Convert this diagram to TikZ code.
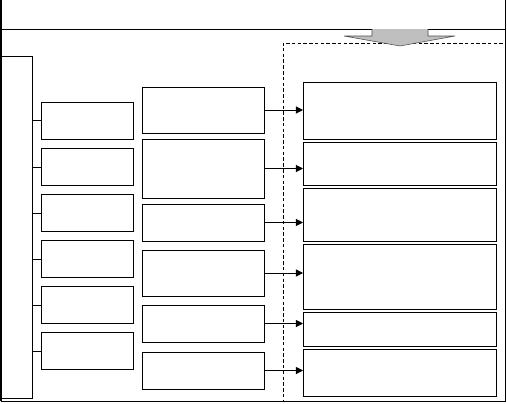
\documentclass[tikz,border=0pt]{standalone}
\usepackage{tikz}
\usetikzlibrary{positioning, calc, arrows.meta}

\begin{document}
\begin{tikzpicture}[
    box/.style={rectangle, draw=black, line width=0.7pt, inner sep=0pt, outer sep=0pt},
    lvl/.style={box, minimum width=2.3cm, minimum height=0.925cm},
    sub/.style={box, minimum width=3.05cm},
    res/.style={box, minimum width=4.825cm},
    link/.style={line width=0.7pt},
    feed/.style={line width=0.7pt, -{Triangle[length=5pt, width=5pt]}}
]
\useasboundingbox (0,0) rectangle (12.675,-10.075);

% frame with header row
\draw[line width=0.7pt] (0.025,0) -- (0.025,-10.025) -- (12.625,-10.025) -- (12.625,0);
\draw[line width=1.6pt] (0.025,0) -- (0.025,-10.025);
\draw[line width=0.7pt] (0.025,-0.725) -- (12.625,-0.725);

\node[box, anchor=north west, minimum width=0.775cm, minimum height=8.55cm] (tall) at (0.025,-1.4) {};

% first column
\node[lvl, anchor=north west] (a1) at (1.025,-2.55) {};
\node[lvl, below=0.24cm of a1] (a2) {};
\node[lvl, below=0.225cm of a2] (a3) {};
\node[lvl, below=0.225cm of a3] (a4) {};
\node[lvl, below=0.225cm of a4] (a5) {};
\node[lvl, below=0.225cm of a5] (a6) {};

% second column
\node[sub, anchor=north west, minimum height=1.15cm] (b1) at (3.55,-2.175) {};
\node[sub, below=0.15cm of b1, minimum height=1.475cm] (b2) {};
\node[sub, below=0.15cm of b2, minimum height=0.925cm] (b3) {};
\node[sub, below=0.225cm of b3, minimum height=1.15cm] (b4) {};
\node[sub, below=0.225cm of b4, minimum height=0.925cm] (b5) {};
\node[sub, below=0.25cm of b5, minimum height=0.925cm] (b6) {};

% dashed result zone
\node[box, dashed, dash pattern=on 2.5pt off 1.6pt, anchor=north west, minimum width=5.55cm, minimum height=8.95cm] (zone) at (7.075,-1.075) {};

\node[res, anchor=north west, minimum height=1.425cm] (c1) at (7.575,-2.05) {};
\node[res, below=0.075cm of c1, minimum height=1.075cm] (c2) {};
\node[res, below=0.075cm of c2, minimum height=1.325cm] (c3) {};
\node[res, below=0.075cm of c3, minimum height=1.625cm] (c4) {};
\node[res, below=0.075cm of c4, minimum height=0.85cm] (c5) {};
\node[res, below=0.075cm of c5, minimum height=1.175cm] (c6) {};

% big arrow into the zone
\draw[fill=gray!50, draw=black!70, line width=0.4pt] (9.3,-0.725) -- (9.3,-0.9) -- (8.6,-0.9) -- (10.0,-1.15) -- (11.375,-0.9) -- (10.7,-0.9) -- (10.7,-0.725);

\draw[link] (a1.west -| tall.east) -- (a1.west);
\draw[link] (a2.west -| tall.east) -- (a2.west);
\draw[link] (a3.west -| tall.east) -- (a3.west);
\draw[link] (a4.west -| tall.east) -- (a4.west);
\draw[link] (a5.west -| tall.east) -- (a5.west);
\draw[link] (a6.west -| tall.east) -- (a6.west);

\draw[link] ($(a1.east)!0.5!(b1.west)$ -| a1.east) -- ($(a1.east)!0.5!(b1.west)$ -| b1.west);
\draw[link] ($(a2.east)!0.5!(b2.west)$ -| a2.east) -- ($(a2.east)!0.5!(b2.west)$ -| b2.west);
\draw[link] ($(a3.east)!0.5!(b3.west)$ -| a3.east) -- ($(a3.east)!0.5!(b3.west)$ -| b3.west);
\draw[link] ($(a4.east)!0.5!(b4.west)$ -| a4.east) -- ($(a4.east)!0.5!(b4.west)$ -| b4.west);
\draw[link] ($(a5.east)!0.5!(b5.west)$ -| a5.east) -- ($(a5.east)!0.5!(b5.west)$ -| b5.west);
\draw[link] ($(a6.east)!0.5!(b6.west)$ -| a6.east) -- ($(a6.east)!0.5!(b6.west)$ -| b6.west);

\draw[feed] (b1.east) -- (b1.east -| c1.west);
\draw[feed] (b2.east) -- (b2.east -| c2.west);
\draw[feed] (b3.east) -- (b3.east -| c3.west);
\draw[feed] (b4.east) -- (b4.east -| c4.west);
\draw[feed] (b5.east) -- (b5.east -| c5.west);
\draw[feed] (b6.east) -- (b6.east -| c6.west);
\end{tikzpicture}
\end{document}
